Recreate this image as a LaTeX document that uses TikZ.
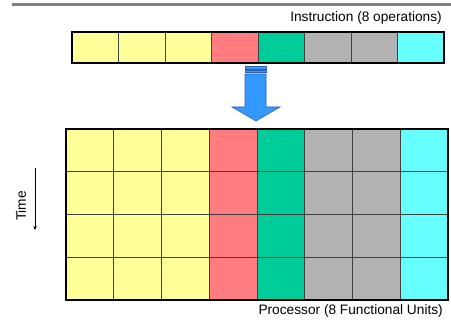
\documentclass[tikz,border=0pt]{standalone}
\usepackage{fontspec}
\setmainfont{Liberation Sans}
\usetikzlibrary{arrows.meta}

\definecolor{opyellow}{HTML}{FFFF99}
\definecolor{opred}{HTML}{FF7C80}
\definecolor{opgreen}{HTML}{00CC99}
\definecolor{opgray}{HTML}{B2B2B2}
\definecolor{opcyan}{HTML}{66FFFF}
\definecolor{flowblue}{HTML}{3399FF}
\definecolor{flowedge}{HTML}{2F5FB0}

\begin{document}
\begin{tikzpicture}[x=1pt,y=-1pt,
	slot/.style={draw=black!75,line width=.8pt,inner sep=0pt,outer sep=0pt,anchor=north west,
		minimum width=46.5pt,minimum height=31pt},
	unit/.style={slot,minimum width=47.75pt,minimum height=42.75pt},
	caption/.style={anchor=east,inner sep=0pt,font=\fontsize{13.7}{15}\selectfont}]
			\useasboundingbox (0,0) rectangle (451,320);
			\draw[line width=3pt,black!50] (12,5) -- (451,5);
			
			% instruction word
			\node[caption] (instr) at (442,18) {Instruction (8 operations)};
			\foreach \c [count=\i from 0] in {opyellow,opyellow,opyellow,opred,opgreen,opgray,opgray,opcyan}
				\node[slot,fill=\c] (op\i) at (72+46.5*\i,32) {};
			\draw[line width=1.3pt] (op0.north west) rectangle (op7.south east);
			
			% issue arrow
			\filldraw[fill=flowblue,draw=flowedge,line width=.6pt] (245,66.5) rectangle (266,69);
			\filldraw[fill=flowblue,draw=flowedge,line width=.6pt] (245,70.5) rectangle (266,72.5);
			\filldraw[fill=flowblue,draw=flowedge,line width=.6pt] (245,74) -- (266,74) -- (266,107) -- (280,107)
				-- (256,121) -- (232,107) -- (245,107) -- cycle;
			
			% functional units over time
			\foreach \c [count=\i from 0] in {opyellow,opyellow,opyellow,opred,opgreen,opgray,opgray,opcyan}
				\foreach \j in {0,...,3}
					\node[unit,fill=\c] (fu\i-\j) at (66+47.75*\i,129+42.75*\j) {};
			\draw[line width=1.5pt] (fu0-0.north west) rectangle (fu7-3.south east);
			\node[caption] (proc) at (443,311) {Processor (8 Functional Units)};
			
			\node[rotate=90,inner sep=0pt,font=\fontsize{13.7}{15}\selectfont] (time) at (21,206) {Time};
			\coordinate (t0) at (35,168); \coordinate (t1) at (35,230);
			\draw[-{Stealth[length=4pt,width=3.5pt]},line width=.5pt] (t0) -- (t1);
\end{tikzpicture}
\end{document}
